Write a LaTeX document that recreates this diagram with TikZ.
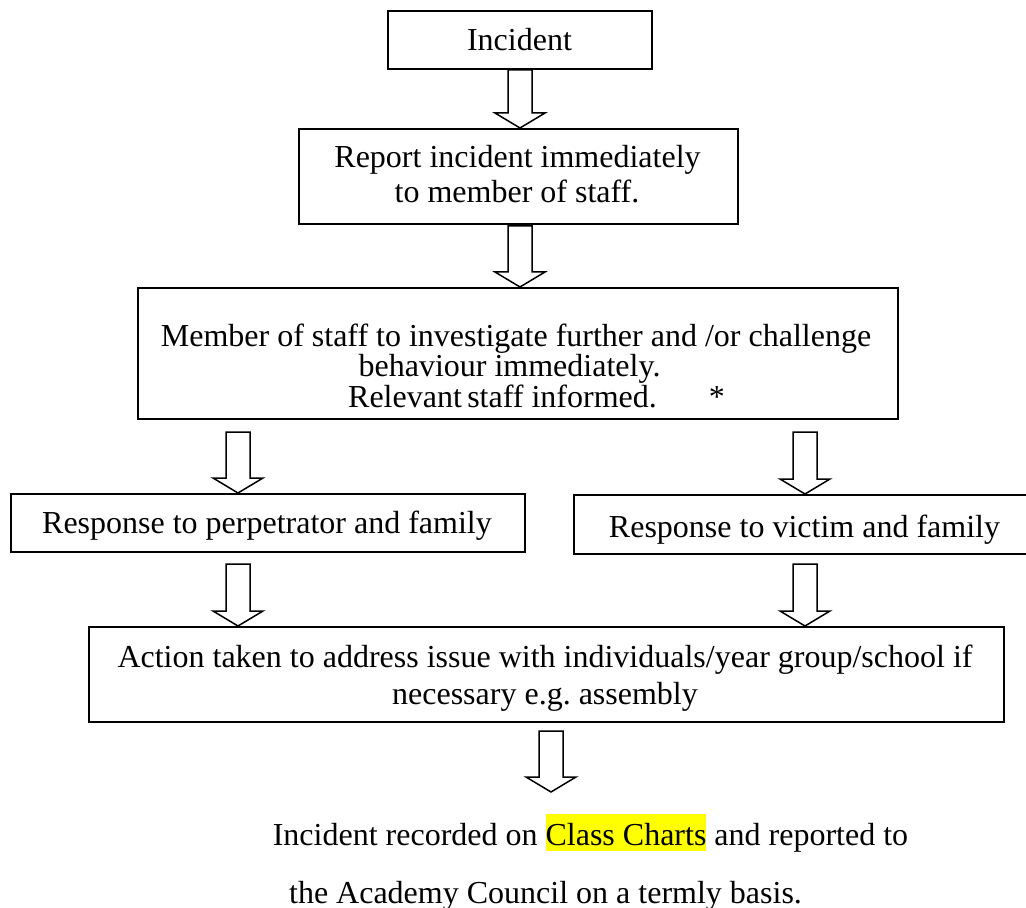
\documentclass[tikz,border=0pt]{standalone}
\usepackage{fontspec}
\setmainfont{Liberation Serif}
\usetikzlibrary{calc}
\definecolor{hlyellow}{RGB}{255,255,0}
\frenchspacing
\tikzset{
  box/.style={draw, line width=1pt, rectangle, inner sep=0pt, anchor=north west},
  txt/.style={anchor=base, inner sep=0pt, font=\fontsize{16pt}{19pt}\selectfont},
  barrow/.style={draw, line width=0.75pt, fill=white, line join=miter},
}
\newcommand{\blockarrow}[2]{%
  \draw[barrow] let \p1=(#1), \p2=(#2) in
    (\x1-6pt,\y1) -- (\x1-6pt,\y2+7.5pt) -- (\x1-12.5pt,\y2+7.5pt) -- (\x2,\y2)
    -- (\x1+12.5pt,\y2+7.5pt) -- (\x1+6pt,\y2+7.5pt) -- (\x1+6pt,\y1) -- cycle;}
\begin{document}
\begin{tikzpicture}[x=0.5pt,y=-0.5pt]
\useasboundingbox (0,0) rectangle (1026,908);
% boxes
\node[box, minimum width=132pt, minimum height=29pt] (inc) at (387,10) {};
\node[box, minimum width=219.5pt, minimum height=47.5pt] (rep) at (298,128) {};
\node[box, minimum width=380pt, minimum height=65.5pt] (mem) at (137,287) {};
\node[box, minimum width=257pt, minimum height=29pt] (perp) at (10,493) {};
\node[box, minimum width=228.5pt, minimum height=29.5pt] (vic) at (573,494) {};
\node[box, minimum width=457.5pt, minimum height=47.5pt] (act) at (88,626) {};
% texts
\node[txt] (tinc) at (519.5,51) {Incident};
\node[txt] (trep1) at (517.5,168) {Report incident immediately};
\node[txt] (trep2) at (517,203) {to member of staff.};
\node[txt] (tmem1) at (516,347) {Member of staff to investigate further and /or challenge};
\node[txt] (tmem2) at (509.5,377) {behaviour immediately.};
\node[txt] (tmem3) at (536.5,408) {Relevant\,staff informed.\hspace{26pt}*};
\node[txt] (tperp) at (267,533) {Response to perpetrator and family};
\node[txt] (tvic) at (804.5,537) {Response to victim and family};
\node[txt] (tact1) at (545,667) {Action taken to address issue with individuals/year group/school if};
\node[txt] (tact2) at (545,704) {necessary e.g. assembly};
\node[txt] (trec1) at (590.5,845) {Incident recorded on {\setlength{\fboxsep}{0pt}\colorbox{hlyellow}{\rule[-3pt]{0pt}{18.5pt}Class Charts}} and reported to};
\node[txt] (trec2) at (545.5,903) {the Academy Council on a termly basis.};
% block arrows
\coordinate (a2s) at (520,226);
\coordinate (aAs) at (238,432);
\coordinate (aBs) at (805,432);
\coordinate (aCs) at (238,564);
\coordinate (aDs) at (805,564);
\coordinate (aEs) at (551,731);
\coordinate (aEe) at (551,792);
\blockarrow{inc.south}{inc.south |- rep.north}
\blockarrow{a2s}{a2s |- mem.north}
\blockarrow{aAs}{aAs |- perp.north}
\blockarrow{aBs}{aBs |- vic.north}
\blockarrow{aCs}{aCs |- act.north}
\blockarrow{aDs}{aDs |- act.north}
\blockarrow{aEs}{aEe}
\end{tikzpicture}
\end{document}
